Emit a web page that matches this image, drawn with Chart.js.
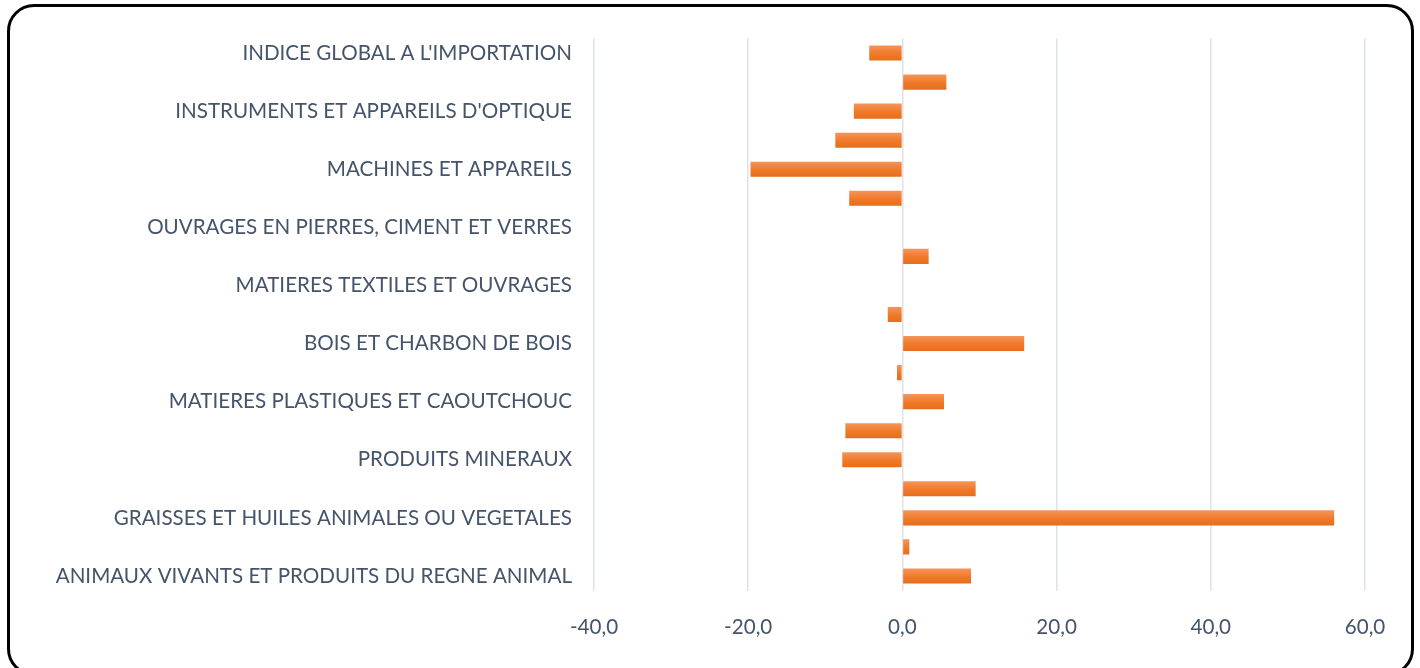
<!DOCTYPE html>
<html>
<head>
<meta charset="utf-8">
<script src="https://cdn.jsdelivr.net/npm/chart.js@4/dist/chart.umd.min.js"></script>
<style>
  html, body { margin: 0; padding: 0; background: #fff; }
  #wrap { position: relative; width: 1420px; height: 668px; overflow: hidden; }
  #frame { position: absolute; left: 7px; top: 4px; width: 1407px; height: 672px;
           box-sizing: border-box; border: 3px solid #000; border-radius: 27px; pointer-events: none; }
</style>
</head>
<body>
<div id="wrap">
  <canvas id="c" width="1420" height="668"></canvas>
  <div id="frame"></div>
</div>
<script>
// Categories, top to bottom
const categories = [
  "INDICE GLOBAL A L'IMPORTATION",
  "MARCHANDISES ET PRODUITS DIVERS",
  "INSTRUMENTS ET APPAREILS D'OPTIQUE",
  "MATERIEL DE TRANSPORT",
  "MACHINES ET APPAREILS",
  "METAUX COMMUNS ET OUVRAGES",
  "OUVRAGES EN PIERRES, CIMENT ET VERRES",
  "CHAUSSURES ET COIFFURES",
  "MATIERES TEXTILES ET OUVRAGES",
  "PATES DE BOIS ET PAPIER",
  "BOIS ET CHARBON DE BOIS",
  "PEAUX ET CUIRS",
  "MATIERES PLASTIQUES ET CAOUTCHOUC",
  "PRODUITS DES INDUSTRIES CHIMIQUES",
  "PRODUITS MINERAUX",
  "PRODUITS DES INDUSTRIES ALIMENTAIRES",
  "GRAISSES ET HUILES ANIMALES OU VEGETALES",
  "PRODUITS DU REGNE VEGETAL",
  "ANIMAUX VIVANTS ET PRODUITS DU REGNE ANIMAL"
];
const variation = [
  -4.3, 5.7, -6.3, -8.7, -19.7, -6.9, 0.0, 3.4, 0.1, -1.9,
  15.8, -0.7, 5.4, -7.4, -7.8, 9.5, 56.0, 0.9, 8.9
];
const xTicks = [-40, -20, 0, 20, 40, 60];

const textColor = '#44546A';
const fontFamily = 'Lato, "Open Sans", sans-serif';

function barGradient(ctx) {
  const chart = ctx.chart;
  const ys = chart.scales && chart.scales.y;
  if (!ys || !chart.chartArea || ctx.dataIndex === undefined) return '#F07A2A';
  const c = ys.getPixelForValue(ctx.dataIndex);
  const g = chart.ctx.createLinearGradient(0, c - 7.5, 0, c + 7.5);
  g.addColorStop(0, '#F3955D');
  g.addColorStop(0.5, '#F27B2B');
  g.addColorStop(1, '#E56D1B');
  return g;
}

new Chart(document.getElementById('c'), {
  type: 'bar',
  data: {
    labels: categories,
    datasets: [{
      data: variation,
      backgroundColor: barGradient,
      borderWidth: 0,
      categoryPercentage: 1.0,
      barPercentage: 0.52
    }]
  },
  options: {
    indexAxis: 'y',
    responsive: false,
    animation: false,
    layout: { padding: { left: 0, top: 38.5, right: 55, bottom: 0 } },
    plugins: { legend: { display: false }, tooltip: { enabled: false } },
    scales: {
      x: {
        min: xTicks[0], max: xTicks[xTicks.length - 1],
        afterBuildTicks: (s) => { s.ticks = xTicks.map(v => ({ value: v })); },
        afterFit: (s) => { s.height = 77.5; },
        grid: { color: '#DEE3EA', lineWidth: 1.5, drawTicks: false },
        border: { display: false },
        ticks: {
          padding: 24,
          color: textColor,
          font: { family: fontFamily, size: 20.6 },
          callback: (v) => Number(v).toFixed(1).replace('.', ',')
        }
      },
      y: {
        afterFit: (s) => { s.width = 594; },
        grid: { display: false, drawTicks: false },
        border: { display: false },
        ticks: {
          autoSkip: false,
          padding: 22,
          color: textColor,
          font: { family: fontFamily, size: 20.6 },
          callback: function (v, i) { return i % 2 === 0 ? this.getLabelForValue(v) : ''; }
        }
      }
    }
  }
});
</script>
</body>
</html>
